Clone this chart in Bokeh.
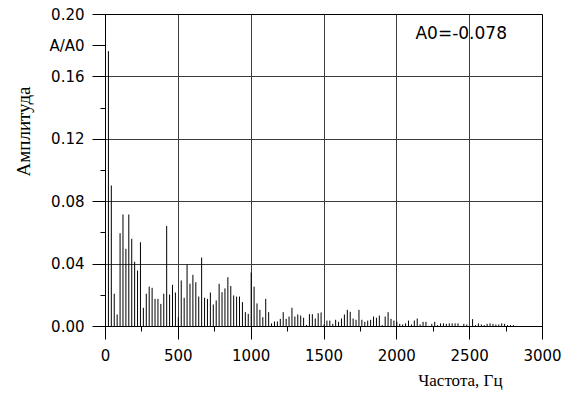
import math
from bokeh.plotting import figure
from bokeh.models import Range1d, FixedTicker, Label, NumeralTickFormatter, ColumnDataSource, Title
from bokeh.embed import file_html
from bokeh.resources import INLINE

# Spectrum lines (frequency, Hz) and amplitudes (A/A0)
freqs = [
    20, 40, 60, 80, 100, 120, 140, 160, 180, 200,
    220, 240, 260, 280, 300, 320, 340, 360, 380, 400,
    420, 440, 460, 480, 500, 520, 540, 560, 580, 600,
    620, 640, 660, 680, 700, 720, 740, 760, 780, 800,
    820, 840, 860, 880, 900, 920, 940, 960, 980, 1000,
    1020, 1040, 1060, 1080, 1100, 1120, 1140, 1160, 1180, 1200,
    1220, 1240, 1260, 1280, 1300, 1320, 1340, 1360, 1380, 1400,
    1420, 1440, 1460, 1480, 1500, 1520, 1540, 1560, 1580, 1600,
    1620, 1640, 1660, 1680, 1700, 1720, 1740, 1760, 1780, 1800,
    1820, 1840, 1860, 1880, 1900, 1920, 1940, 1960, 1980, 2000,
    2020, 2040, 2060, 2080, 2100, 2120, 2140, 2160, 2180, 2200,
    2220, 2240, 2260, 2280, 2300, 2320, 2340, 2360, 2380, 2400,
    2420, 2440, 2460, 2480, 2500, 2520, 2540, 2560, 2580, 2600,
    2620, 2640, 2660, 2680, 2700, 2720, 2740, 2760, 2780, 2800,
]
amplitudes = [
    0.1765, 0.0904, 0.021, 0.0077, 0.0598, 0.0718, 0.0498, 0.0718, 0.0562, 0.0415,
    0.0359, 0.054, 0.012, 0.021, 0.0256, 0.0248, 0.0177, 0.0177, 0.0145, 0.021,
    0.0645, 0.0205, 0.0267, 0.0218, 0.006, 0.0295, 0.0184, 0.0397, 0.0274, 0.0331,
    0.0284, 0.0192, 0.0442, 0.0184, 0.0177, 0.0218, 0.0141, 0.0167, 0.0274, 0.022,
    0.0244, 0.0316, 0.026, 0.0199, 0.0192, 0.0192, 0.0156, 0.0092, 0.0081, 0.0346,
    0.0256, 0.0148, 0.0107, 0.006, 0.0177, 0.0092, 0.002, 0.0032, 0.0032, 0.0049,
    0.0092, 0.0049, 0.0064, 0.012, 0.0064, 0.0077, 0.007, 0.0056, 0.001, 0.0079,
    0.0079, 0.0051, 0.0085, 0.009, 0.0013, 0.0038, 0.0038, 0.0017, 0.0043, 0.003,
    0.0051, 0.0077, 0.0107, 0.0094, 0.0051, 0.0043, 0.0107, 0.0043, 0.003, 0.0038,
    0.0043, 0.0064, 0.0056, 0.007, 0.0009, 0.0064, 0.0092, 0.0049, 0.0038, 0.003,
    0.0017, 0.0013, 0.002, 0.0038, 0.0013, 0.0038, 0.0051, 0.0013, 0.003, 0.003,
    0.0004, 0.0017, 0.003, 0.0009, 0.002, 0.002, 0.0017, 0.002, 0.002, 0.002,
    0.002, 0.0004, 0.0017, 0.0013, 0.0004, 0.0047, 0.0009, 0.002, 0.0013, 0.0009,
    0.0017, 0.002, 0.0017, 0.0013, 0.0013, 0.002, 0.0017, 0.0009, 0.0009, 0.0009,
]
zeros = [0.0] * len(freqs)

x_ticks = [0, 500, 1000, 1500, 2000, 2500, 3000]
x_minor = [250, 750, 1250, 1750, 2250, 2750]
y_ticks = [0.0, 0.04, 0.08, 0.12, 0.16, 0.18, 0.20]
y_minor = [0.02, 0.06, 0.10, 0.14]
y_overrides = {0.18: "A/A0"}
x_grid = [500, 1000, 1500, 2000, 2500]
y_grid = [0.04, 0.08, 0.12, 0.16]

x_title = "Частота, Гц"
y_title = "Амплитуда"
a0_label = "A0=-0.078"

TICK_FONT = "DejaVu Sans"
SERIF = "Liberation Serif"

p = figure(width=576, height=396, output_backend="svg", toolbar_location=None,
           x_range=Range1d(0, 3000), y_range=Range1d(0, 0.2),
           min_border_left=105, min_border_right=34, min_border_top=14,
           min_border_bottom=70)
p.background_fill_color = "white"
p.border_fill_color = "white"
p.outline_line_color = "black"
p.outline_line_width = 1

src = ColumnDataSource(dict(f=freqs, a=amplitudes, z=zeros))
p.segment(x0="f", y0="z", x1="f", y1="a", source=src, line_color="black", line_width=1)

for ax in (p.xaxis, p.yaxis):
    ax.major_tick_in = 0
    ax.major_tick_out = 13
    ax.minor_tick_in = 0
    ax.minor_tick_out = 5
    ax.axis_line_color = "black"
    ax.major_tick_line_color = "black"
    ax.minor_tick_line_color = "black"
    ax.major_label_text_font = TICK_FONT
    ax.major_label_text_font_size = "15px"
    ax.major_label_text_color = "black"

p.xaxis.ticker = FixedTicker(ticks=x_ticks, minor_ticks=x_minor)
p.yaxis.ticker = FixedTicker(ticks=y_ticks, minor_ticks=y_minor)
p.yaxis.formatter = NumeralTickFormatter(format="0.00")
p.yaxis.major_label_overrides = y_overrides
p.xaxis.major_label_standoff = 9
p.yaxis.major_label_standoff = 8

p.xgrid.ticker = FixedTicker(ticks=x_grid)
p.ygrid.ticker = FixedTicker(ticks=y_grid)
p.grid.grid_line_color = "#3c3c3c"
p.grid.grid_line_width = 1
p.grid.grid_line_alpha = 1.0

p.add_layout(Label(x=2128, y=0.188, text=a0_label, text_align="left",
                   text_baseline="middle", text_font=TICK_FONT,
                   text_font_size="17px", text_color="black"))

p.add_layout(Title(text=y_title, align="right", offset=72, standoff=21,
                   vertical_align="top",
                   text_font=SERIF, text_font_size="19px",
                   text_font_style="normal", text_color="black"), "left")
p.add_layout(Title(text=x_title, align="right", offset=40, standoff=10,
                   text_font=SERIF, text_font_size="17px",
                   text_font_style="normal", text_color="black"), "below")

open("out.html", "w").write(file_html(p, INLINE))
